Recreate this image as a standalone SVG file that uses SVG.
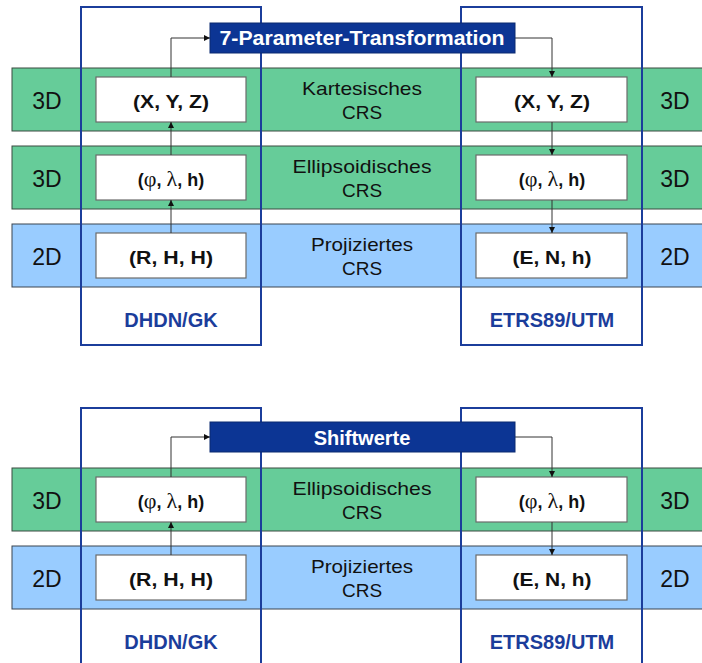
<svg xmlns="http://www.w3.org/2000/svg" width="702" height="663" viewBox="0 0 702 663">
<style>
.band-g{fill:#66cc99;stroke:#3a4a40;stroke-width:1}
.band-b{fill:#99ccff;stroke:#3a4450;stroke-width:1}
.frame{fill:none;stroke:#1b3d9b;stroke-width:2}
.box{fill:#ffffff;stroke:#6b6b6b;stroke-width:1.2}
.title{fill:#0c3594;stroke:#0a2a70;stroke-width:1}
.dim{font-family:"Liberation Sans",Arial,sans-serif;font-size:23px;fill:#111;text-anchor:middle}
.crs{font-family:"Liberation Sans",Arial,sans-serif;font-size:19px;fill:#111;text-anchor:middle}
.lbl{font-family:"Liberation Sans",Arial,sans-serif;font-size:18px;font-weight:bold;fill:#111;text-anchor:middle}
.gr{font-family:"Liberation Serif","Times New Roman",serif;font-weight:normal;font-size:22px}
.sys{font-family:"Liberation Sans",Arial,sans-serif;font-size:20px;font-weight:bold;fill:#1b3d9b;text-anchor:middle}
.ttl{font-family:"Liberation Sans",Arial,sans-serif;font-size:20px;font-weight:bold;fill:#ffffff;text-anchor:middle}
.conn{fill:none;stroke:#333;stroke-width:1}
</style>
<defs>
<marker id="ah" viewBox="0 0 10 10" refX="10" refY="5" markerWidth="6" markerHeight="6" orient="auto" markerUnits="userSpaceOnUse">
<path d="M0,0 L10,5 L0,10 z" fill="#111"/>
</marker>
</defs>
<rect width="702" height="663" fill="#ffffff"/>

<!-- ===== Top panel ===== -->
<g id="bands-top">
<rect class="band-g" x="12" y="68" width="700" height="63"/>
<rect class="band-g" x="12" y="146" width="700" height="63"/>
<rect class="band-b" x="12" y="224" width="700" height="63"/>
</g>
<g id="dims-top">
<text class="dim" x="47" y="109">3D</text>
<text class="dim" x="47" y="187">3D</text>
<text class="dim" x="47" y="265">2D</text>
<text class="dim" x="675" y="109">3D</text>
<text class="dim" x="675" y="187">3D</text>
<text class="dim" x="675" y="265">2D</text>
</g>
<g id="crs-top">
<text class="crs" x="362" y="95" textLength="120" lengthAdjust="spacingAndGlyphs">Kartesisches</text>
<text class="crs" x="362" y="119">CRS</text>
<text class="crs" x="362" y="173" textLength="139" lengthAdjust="spacingAndGlyphs">Ellipsoidisches</text>
<text class="crs" x="362" y="197">CRS</text>
<text class="crs" x="362" y="251" textLength="102" lengthAdjust="spacingAndGlyphs">Projiziertes</text>
<text class="crs" x="362" y="275">CRS</text>
</g>
<g id="frame-dhdn-top">
<rect class="frame" x="81" y="7" width="180" height="338"/>
<text class="sys" x="171" y="327">DHDN/GK</text>
</g>
<g id="frame-etrs-top">
<rect class="frame" x="461" y="7" width="181" height="338"/>
<text class="sys" x="552" y="327">ETRS89/UTM</text>
</g>
<g id="node-xyz-left">
<rect class="box" x="96" y="77" width="150" height="45"/>
<text class="lbl" x="171" y="108" textLength="76" lengthAdjust="spacingAndGlyphs">(X, Y, Z)</text>
</g>
<g id="node-plh-left">
<rect class="box" x="96" y="155" width="150" height="45"/>
<text class="lbl" x="171" y="186">(<tspan class="gr">φ</tspan>, <tspan class="gr">λ</tspan>, h)</text>
</g>
<g id="node-rhh-left">
<rect class="box" x="96" y="233" width="150" height="45"/>
<text class="lbl" x="171" y="264" textLength="84" lengthAdjust="spacingAndGlyphs">(R, H, H)</text>
</g>
<g id="node-xyz-right">
<rect class="box" x="476" y="77" width="151" height="45"/>
<text class="lbl" x="552" y="108" textLength="76" lengthAdjust="spacingAndGlyphs">(X, Y, Z)</text>
</g>
<g id="node-plh-right">
<rect class="box" x="476" y="155" width="151" height="45"/>
<text class="lbl" x="552" y="186">(<tspan class="gr">φ</tspan>, <tspan class="gr">λ</tspan>, h)</text>
</g>
<g id="node-enh-right">
<rect class="box" x="476" y="233" width="151" height="45"/>
<text class="lbl" x="552" y="264" textLength="79" lengthAdjust="spacingAndGlyphs">(E, N, h)</text>
</g>

<!-- ===== Bottom panel ===== -->
<g id="bands-bottom">
<rect class="band-g" x="12" y="468" width="700" height="63"/>
<rect class="band-b" x="12" y="546" width="700" height="63"/>
</g>
<g id="dims-bottom">
<text class="dim" x="47" y="509">3D</text>
<text class="dim" x="47" y="587">2D</text>
<text class="dim" x="675" y="509">3D</text>
<text class="dim" x="675" y="587">2D</text>
</g>
<g id="crs-bottom">
<text class="crs" x="362" y="495" textLength="139" lengthAdjust="spacingAndGlyphs">Ellipsoidisches</text>
<text class="crs" x="362" y="519">CRS</text>
<text class="crs" x="362" y="573" textLength="102" lengthAdjust="spacingAndGlyphs">Projiziertes</text>
<text class="crs" x="362" y="597">CRS</text>
</g>
<g id="frame-dhdn-bottom">
<rect class="frame" x="81" y="408" width="180" height="270"/>
<text class="sys" x="171" y="649">DHDN/GK</text>
</g>
<g id="frame-etrs-bottom">
<rect class="frame" x="461" y="408" width="181" height="270"/>
<text class="sys" x="552" y="649">ETRS89/UTM</text>
</g>
<g id="node-plh-left-b">
<rect class="box" x="96" y="477" width="150" height="45"/>
<text class="lbl" x="171" y="508">(<tspan class="gr">φ</tspan>, <tspan class="gr">λ</tspan>, h)</text>
</g>
<g id="node-rhh-left-b">
<rect class="box" x="96" y="555" width="150" height="45"/>
<text class="lbl" x="171" y="586" textLength="84" lengthAdjust="spacingAndGlyphs">(R, H, H)</text>
</g>
<g id="node-plh-right-b">
<rect class="box" x="476" y="477" width="151" height="45"/>
<text class="lbl" x="552" y="508">(<tspan class="gr">φ</tspan>, <tspan class="gr">λ</tspan>, h)</text>
</g>
<g id="node-enh-right-b">
<rect class="box" x="476" y="555" width="151" height="45"/>
<text class="lbl" x="552" y="586" textLength="79" lengthAdjust="spacingAndGlyphs">(E, N, h)</text>
</g>

<!-- ===== Connectors ===== -->
<g id="connectors">
<path class="conn" d="M171,233 L171,200" marker-end="url(#ah)"/>
<path class="conn" d="M171,155 L171,122" marker-end="url(#ah)"/>
<path class="conn" d="M171,77 L171,38 L210,38" marker-end="url(#ah)"/>
<path class="conn" d="M515,38 L552,38 L552,77" marker-end="url(#ah)"/>
<path class="conn" d="M552,122 L552,155" marker-end="url(#ah)"/>
<path class="conn" d="M552,200 L552,233" marker-end="url(#ah)"/>
<path class="conn" d="M171,555 L171,522" marker-end="url(#ah)"/>
<path class="conn" d="M171,477 L171,437 L210,437" marker-end="url(#ah)"/>
<path class="conn" d="M515,437 L552,437 L552,477" marker-end="url(#ah)"/>
<path class="conn" d="M552,522 L552,555" marker-end="url(#ah)"/>
</g>

<g id="node-7param">
<rect class="title" x="210" y="23" width="305" height="30"/>
<text class="ttl" x="362" y="45" textLength="285" lengthAdjust="spacingAndGlyphs">7-Parameter-Transformation</text>
</g>
<g id="node-shiftwerte">
<rect class="title" x="210" y="422" width="305" height="30"/>
<text class="ttl" x="362" y="445">Shiftwerte</text>
</g>
</svg>
